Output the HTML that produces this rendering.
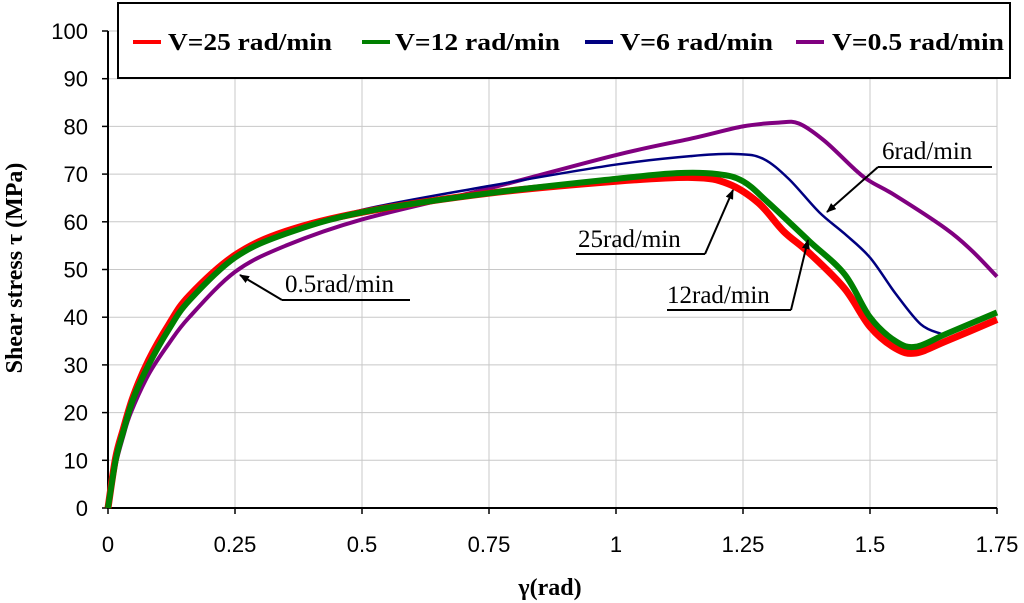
<!DOCTYPE html>
<html><head><meta charset="utf-8"><style>
body{margin:0;background:#fff;}
svg{display:block;font-family:"Liberation Serif",serif;}
</style></head><body>
<svg id="c" width="1024" height="603" viewBox="0 0 1024 603"></svg>
<script>
const xTicks=[0,0.25,0.5,0.75,1,1.25,1.5,1.75];
const xTickLabels=["0","0.25","0.5","0.75","1","1.25","1.5","1.75"];
const yTicks=[0,10,20,30,40,50,60,70,80,90,100];
const s25x=[0,0.015,0.03,0.05,0.08,0.12,0.16,0.25,0.35,0.5,0.75,1.0,1.15,1.22,1.28,1.33,1.38,1.45,1.5,1.55,1.59,1.65,1.75];
const s25y=[0,10.5,16.5,23.5,31,38.5,44.5,53,58,62,66,68.5,69.3,68,64,58,53.5,46,38,33.5,32.5,35,39.5];
const s12x=[0,0.015,0.03,0.05,0.08,0.12,0.16,0.25,0.35,0.5,0.75,1.0,1.12,1.2,1.25,1.3,1.38,1.45,1.5,1.55,1.59,1.65,1.75];
const s12y=[0,10,16,23,30,37.5,43.5,52.5,57.5,62,66,69,70.2,70,68.5,64,56,49,40,35,33.8,36.5,41];
const s6x=[0,0.015,0.03,0.05,0.08,0.12,0.16,0.25,0.35,0.5,0.75,1.0,1.15,1.24,1.29,1.34,1.4,1.45,1.5,1.55,1.6,1.64];
const s6y=[0,10,16,23,30,37.5,43.5,52.5,57.5,62.5,67.5,72,73.8,74.2,73.2,69,62,57.5,52.5,45,38.5,36.5];
const s05x=[0,0.015,0.03,0.045,0.08,0.12,0.16,0.25,0.35,0.5,0.75,1.0,1.15,1.25,1.32,1.36,1.41,1.47,1.5,1.55,1.65,1.7,1.75];
const s05y=[0,9,15,20,28,34.5,40,49.5,55,60.5,67,74,77.5,80,80.8,80.6,77,71,68.5,65.5,58.5,54,48.5];

const NS="http://www.w3.org/2000/svg";
const svg=document.getElementById('c');
const X0=108,X1=997,Y0=508,Y1=31;
const sx=v=>X0+(v-0)/(1.75)*(X1-X0);
const sy=v=>Y0-(v/100)*(Y0-Y1);
function mk(t,a,p){const e=document.createElementNS(NS,t);for(const k in a)e.setAttribute(k,a[k]);(p||svg).appendChild(e);return e;}
xTicks.forEach((t,i)=>{if(i>0){const g=mk('line',{x1:sx(t),x2:sx(t),y1:Y1,y2:Y0,stroke:'#c8c8c8','stroke-width':1});

}
const tk=mk('line',{x1:sx(t),x2:sx(t),y1:Y0,y2:Y0+6,stroke:'#000','stroke-width':1.5});


const l=mk('text',{x:sx(t),y:Y0+44,'text-anchor':'middle','font-size':22,'font-family':'Liberation Sans'});l.textContent=xTickLabels[i];

});
yTicks.forEach(t=>{if(t>0){const g=mk('line',{x1:X0,x2:X1,y1:sy(t),y2:sy(t),stroke:'#c8c8c8','stroke-width':1});

}
const tk=mk('line',{x1:X0-6,x2:X0,y1:sy(t),y2:sy(t),stroke:'#000','stroke-width':1.5});


const l=mk('text',{x:X0-20,y:sy(t)+8,'text-anchor':'end','font-size':22,'font-family':'Liberation Sans'});l.textContent=t;

});
const ax=mk('path',{d:`M${X0},${Y1}V${Y0}H${X1}`,fill:'none',stroke:'#000','stroke-width':2});


function smooth(xs,ys){const p=xs.map((x,i)=>[sx(x),sy(ys[i])]);let d=`M${p[0][0]},${p[0][1]}`;
for(let i=0;i<p.length-1;i++){const a=p[i-1]||p[i],b=p[i],c=p[i+1],e=p[i+2]||c;
d+=`C${b[0]+(c[0]-a[0])/6},${b[1]+(c[1]-a[1])/6} ${c[0]-(e[0]-b[0])/6},${c[1]-(e[1]-b[1])/6} ${c[0]},${c[1]}`;}return d;}
const series=[[s05x,s05y,'#800080',4,'series-0.5'],[s6x,s6y,'#000080',2.5,'series-6'],[s25x,s25y,'#ff0000',7,'series-25'],[s12x,s12y,'#008000',6,'series-12']];
series.forEach(s=>{const p=mk('path',{d:smooth(s[0],s[1]),fill:'none',stroke:s[2],'stroke-width':s[3],'stroke-linejoin':'round'});

});
mk('defs',{}).innerHTML='<marker id="ar" markerWidth="10" markerHeight="8" refX="9" refY="4" orient="auto" markerUnits="userSpaceOnUse"><path d="M0,0L10,4L0,8z" fill="#000"/></marker>';
function ann(lx1,lx2,ly,ex,ey,tx,ty,txt,name){
const g=mk('g',{});
mk('path',{d:`M${lx1},${ly}H${lx2}`,stroke:'#000','stroke-width':2,fill:'none'},g);
mk('line',{x1:lx2,y1:ly,x2:ex,y2:ey,stroke:'#000','stroke-width':2,'marker-end':'url(#ar)'},g);
const t=mk('text',{x:tx,y:ty,'font-size':25},g);t.textContent=txt;}
function ann2(lx1,lx2,ly,ex,ey,tx,ty,txt,name){
const g=mk('g',{});
mk('path',{d:`M${lx2},${ly}H${lx1}`,stroke:'#000','stroke-width':2,fill:'none'},g);
mk('line',{x1:lx1,y1:ly,x2:ex,y2:ey,stroke:'#000','stroke-width':2,'marker-end':'url(#ar)'},g);
const t=mk('text',{x:tx,y:ty,'font-size':25},g);t.textContent=txt;}
ann2(282,410,300,240,275,285,292,'0.5rad/min','annotation-0.5');
ann(576,705,254,733,190,578,247,'25rad/min','annotation-25');
ann(667,791,310,808,240,667,303,'12rad/min','annotation-12');
ann2(878,992,167,827,212,882,159,'6rad/min','annotation-6');
const lg=mk('g',{});
mk('rect',{x:118,y:3,width:892,height:75,fill:'#fff',stroke:'#000','stroke-width':2},lg);
const legColors=['#ff0000','#008000','#000080','#800080'];
const legLabels=['V=25 rad/min','V=12 rad/min','V=6 rad/min','V=0.5 rad/min'];
const legMark=[133,362,585,796];
const legText=[168,395,620,832];
const legW=[164,165,153,172];
legLabels.forEach((lab,i)=>{const g=mk('g',{},lg);


mk('line',{x1:legMark[i],x2:legMark[i]+28,y1:42,y2:42,stroke:legColors[i],'stroke-width':4},g);
const t=mk('text',{x:legText[i],y:50,'font-size':24,'font-weight':'bold','font-family':'"Liberation Serif",serif',textLength:legW[i],lengthAdjust:'spacingAndGlyphs'},g);t.textContent=lab;});
const xt=mk('text',{x:550,y:595,'text-anchor':'middle','font-size':24,'font-weight':'bold'});xt.textContent='γ(rad)';


const yt=mk('text',{x:0,y:0,'text-anchor':'middle','font-size':24,'font-weight':'bold',transform:'translate(22,268) rotate(-90)'});yt.textContent='Shear stress τ (MPa)';


</script>
</body></html>
